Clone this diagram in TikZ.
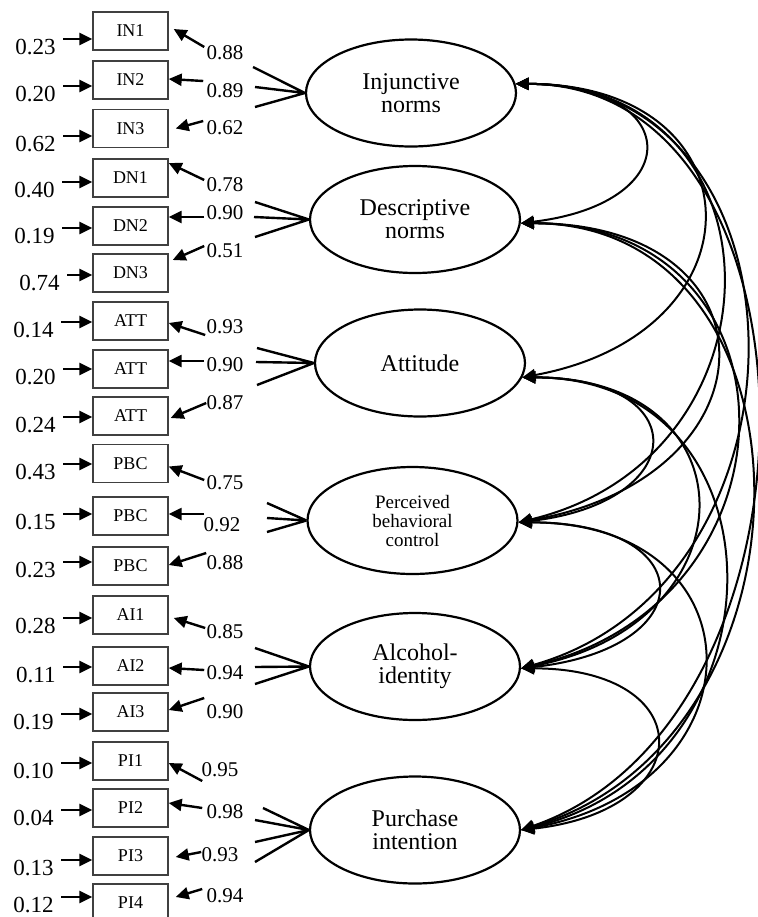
\documentclass[tikz,border=0pt]{standalone}
\usepackage{fontspec}
\setmainfont{Liberation Serif}
\usetikzlibrary{arrows.meta,shapes.geometric}

\tikzset{
    indicator/.style={draw=black!75, line width=0.7pt,
        minimum width=37.5pt, minimum height=19pt, inner sep=0pt,
        font=\fontsize{9}{9}\selectfont},
    latent/.style={draw, ellipse, line width=1.1pt,
        minimum width=105pt, minimum height=53.5pt, inner sep=0pt,
        align=center, font=\fontsize{12}{11.5}\selectfont},
    errlabel/.style={anchor=north east, inner sep=0pt,
        font=\fontsize{11.5}{11.5}\selectfont},
    loadlabel/.style={inner sep=0pt, font=\fontsize{10.5}{10.5}\selectfont},
    errarrow/.style={->, line width=1.3pt},
    loadarrow/.style={->, line width=1.2pt},
    fan/.style={line width=1.2pt},
    covar/.style={<->, line width=1pt}
}

\begin{document}
\begin{tikzpicture}[x=0.5pt, y=-0.5pt, >={Triangle[length=6.5pt,width=6pt]}]
    \useasboundingbox (0,0) rectangle (757,917);

    % Indicators
    \node [indicator] (IN1) at (130.5,31) {IN1};
    \node [indicator] (IN2) at (130.5,80) {IN2};
    \node [indicator] (IN3) at (130.5,128.5) {IN3};
    \node [indicator] (DN1) at (130.5,178) {DN1};
    \node [indicator] (DN2) at (130.5,226) {DN2};
    \node [indicator] (DN3) at (130.5,273) {DN3};
    \node [indicator] (ATT1) at (130.5,321) {ATT};
    \node [indicator] (ATT2) at (130.5,369) {ATT};
    \node [indicator] (ATT3) at (130.5,416) {ATT};
    \node [indicator] (PBC1) at (130.5,463.5) {PBC};
    \node [indicator] (PBC2) at (130.5,516) {PBC};
    \node [indicator] (PBC3) at (130.5,566) {PBC};
    \node [indicator] (AI1) at (130.5,615) {AI1};
    \node [indicator] (AI2) at (130.5,666) {AI2};
    \node [indicator] (AI3) at (130.5,712) {AI3};
    \node [indicator] (PI1) at (130.5,761) {PI1};
    \node [indicator] (PI2) at (130.5,808) {PI2};
    \node [indicator] (PI3) at (130.5,856) {PI3};
    \node [indicator] (PI4) at (130.5,903) {PI4};

    % Error terms
    \node [errlabel] (ErrIN1) at (56,39) {0.23};
    \node [errlabel] (ErrIN2) at (56,86) {0.20};
    \node [errlabel] (ErrIN3) at (56,136) {0.62};
    \node [errlabel] (ErrDN1) at (55,182) {0.40};
    \node [errlabel] (ErrDN2) at (55,228) {0.19};
    \node [errlabel] (ErrDN3) at (60,275) {0.74};
    \node [errlabel] (ErrATT1) at (54,322) {0.14};
    \node [errlabel] (ErrATT2) at (56,369) {0.20};
    \node [errlabel] (ErrATT3) at (56,417) {0.24};
    \node [errlabel] (ErrPBC1) at (56,464) {0.43};
    \node [errlabel] (ErrPBC2) at (56,514) {0.15};
    \node [errlabel] (ErrPBC3) at (56,562) {0.23};
    \node [errlabel] (ErrAI1) at (56,618) {0.28};
    \node [errlabel] (ErrAI2) at (56,667) {0.11};
    \node [errlabel] (ErrAI3) at (54,714) {0.19};
    \node [errlabel] (ErrPI1) at (54,763) {0.10};
    \node [errlabel] (ErrPI2) at (54,810) {0.04};
    \node [errlabel] (ErrPI3) at (54,860) {0.13};
    \node [errlabel] (ErrPI4) at (54,897) {0.12};
    \foreach \item in {IN1,IN2,IN3,DN1,DN2,DN3,ATT1,ATT2,ATT3,PBC1,PBC2,PBC3,AI1,AI2,AI3,PI1,PI2,PI3,PI4}
        \draw [errarrow] ([xshift=3.5pt]Err\item.north east) -- (Err\item.north east -| \item.west);

    % Loadings
    \node [loadlabel] (LoadIN1) at (225,53) {0.88};
    \node [loadlabel] (LoadIN2) at (225,91) {0.89};
    \node [loadlabel] (LoadIN3) at (225,128) {0.62};
    \node [loadlabel] (LoadDN1) at (225,185) {0.78};
    \node [loadlabel] (LoadDN2) at (225,213) {0.90};
    \node [loadlabel] (LoadDN3) at (225,251) {0.51};
    \node [loadlabel] (LoadATT1) at (225,327) {0.93};
    \node [loadlabel] (LoadATT2) at (225,365) {0.90};
    \node [loadlabel] (LoadATT3) at (225,403) {0.87};
    \node [loadlabel] (LoadPBC1) at (225,483) {0.75};
    \node [loadlabel] (LoadPBC2) at (222,525) {0.92};
    \node [loadlabel] (LoadPBC3) at (225,563) {0.88};
    \node [loadlabel] (LoadAI1) at (225,632) {0.85};
    \node [loadlabel] (LoadAI2) at (225,673) {0.94};
    \node [loadlabel] (LoadAI3) at (225,712) {0.90};
    \node [loadlabel] (LoadPI1) at (220,770) {0.95};
    \node [loadlabel] (LoadPI2) at (225,812) {0.98};
    \node [loadlabel] (LoadPI3) at (220,855) {0.93};
    \node [loadlabel] (LoadPI4) at (225,896) {0.94};

    \draw [loadarrow] ([shift={(-2,-6)}]LoadIN1.west) -- ([shift={(5,-2)}]IN1.east);
    \draw [loadarrow] ([shift={(-3,-10)}]LoadIN2.west) -- ([shift={(0,-1)}]IN2.east);
    \draw [loadarrow] ([shift={(-3,-7)}]LoadIN3.west) -- ([shift={(7,0)}]IN3.east);
    \draw [loadarrow] ([shift={(-2,-5)}]LoadDN1.west) -- ([shift={(0,-15)}]DN1.east);
    \draw [loadarrow] ([shift={(-2,4)}]LoadDN2.west) -- ([shift={(0,-9)}]DN2.east);
    \draw [loadarrow] ([shift={(-2,-5)}]LoadDN3.west) -- ([shift={(4,-13)}]DN3.east);
    \draw [loadarrow] ([shift={(-1,8)}]LoadATT1.west) -- ([shift={(0,2)}]ATT1.east);
    \draw [loadarrow] ([shift={(-2,-4)}]LoadATT2.west) -- ([shift={(0,-8)}]ATT2.east);
    \draw [loadarrow] ([shift={(0,0)}]LoadATT3.west) -- ([shift={(2,2)}]ATT3.east);
    \draw [loadarrow] ([shift={(-2,-3)}]LoadPBC1.west) -- ([shift={(0,3)}]PBC1.east);
    \draw [loadarrow] ([shift={(1,-11)}]LoadPBC2.west) -- ([shift={(0,-2)}]PBC2.east);
    \draw [loadarrow] ([shift={(0,-10)}]LoadPBC3.west) -- ([shift={(0,-1)}]PBC3.east);
    \draw [loadarrow] ([shift={(-1,-4)}]LoadAI1.west) -- ([shift={(5,3)}]AI1.east);
    \draw [loadarrow] ([shift={(-2,-3)}]LoadAI2.west) -- ([shift={(0,2)}]AI2.east);
    \draw [loadarrow] ([shift={(-2,-14)}]LoadAI3.west) -- ([shift={(0,-2)}]AI3.east);
    \draw [loadarrow] ([shift={(1,11)}]LoadPI1.west) -- ([shift={(0,2)}]PI1.east);
    \draw [loadarrow] ([shift={(-4,-4)}]LoadPI2.west) -- ([shift={(0,-5)}]PI2.east);
    \draw [loadarrow] ([shift={(0,-3)}]LoadPI3.west) -- ([shift={(7,1)}]PI3.east);
    \draw [loadarrow] ([shift={(-4,-7)}]LoadPI4.west) -- ([shift={(7,-6)}]PI4.east);

    % Latent variables
    \node [latent] (Injunctive) at (411,93) {Injunctive\\norms};
    \node [latent] (Descriptive) at (415,219.5) {Descriptive\\norms};
    \node [latent] (Attitude) at (420,363) {Attitude};
    \node [latent, font=\fontsize{9.5}{9.5}\selectfont] (Control) at (412.5,520.5) {Perceived\\behavioral\\control};
    \node [latent] (Identity) at (415,666.5) {Alcohol-\\identity};
    \node [latent] (Intention) at (415,830) {Purchase\\intention};

    % Fans
    \coordinate (FanIN1) at (253,67);
    \coordinate (FanIN2) at (255,87);
    \coordinate (FanIN3) at (255,107);
    \coordinate (FanDN1) at (255,202);
    \coordinate (FanDN2) at (254,217);
    \coordinate (FanDN3) at (255,237);
    \coordinate (FanATT1) at (257,348);
    \coordinate (FanATT2) at (256,362);
    \coordinate (FanATT3) at (257,385);
    \coordinate (FanPBC1) at (267,503);
    \coordinate (FanPBC2) at (267,518);
    \coordinate (FanPBC3) at (267,532);
    \coordinate (FanAI1) at (255,648);
    \coordinate (FanAI2) at (255,667);
    \coordinate (FanAI3) at (255,684);
    \coordinate (FanPI1) at (263,808);
    \coordinate (FanPI2) at (255,820);
    \coordinate (FanPI3) at (255,842);
    \coordinate (FanPI4) at (255,862);
    \draw [fan] (Injunctive.west) -- (FanIN1) (Injunctive.west) -- (FanIN2) (Injunctive.west) -- (FanIN3);
    \draw [fan] (Descriptive.west) -- (FanDN1) (Descriptive.west) -- (FanDN2) (Descriptive.west) -- (FanDN3);
    \draw [fan] (Attitude.west) -- (FanATT1) (Attitude.west) -- (FanATT2) (Attitude.west) -- (FanATT3);
    \draw [fan] (Control.west) -- (FanPBC1) (Control.west) -- (FanPBC2) (Control.west) -- (FanPBC3);
    \draw [fan] (Identity.west) -- (FanAI1) (Identity.west) -- (FanAI2) (Identity.west) -- (FanAI3);
    \draw [fan] (Intention.west) -- (FanPI1) (Intention.west) -- (FanPI2) (Intention.west) -- (FanPI3) (Intention.west) -- (FanPI4);

    % Correlations
    \draw [covar] (Injunctive.5) .. controls +(168,0) and +(168,-20) .. (Descriptive.-2);
    \draw [covar] (Injunctive.5) .. controls +(245,0) and +(245,-45) .. (Attitude.-8);
    \draw [covar] (Injunctive.5) .. controls +(273,0) and +(273,-65) .. (Control.-1);
    \draw [covar] (Injunctive.5) .. controls +(303,0) and +(303,-85) .. (Identity.-1);
    \draw [covar] (Injunctive.5) .. controls +(318,0) and +(318,-110) .. (Intention.0);
    \draw [covar] (Descriptive.-2) .. controls +(262,0) and +(262,-45) .. (Control.-1);
    \draw [covar] (Descriptive.-2) .. controls +(287,0) and +(287,-65) .. (Identity.-1);
    \draw [covar] (Descriptive.-2) .. controls +(307,0) and +(307,-90) .. (Intention.0);
    \draw [covar] (Attitude.-8) .. controls +(173,0) and +(173,-20) .. (Control.-1);
    \draw [covar] (Attitude.-8) .. controls +(233,0) and +(233,-45) .. (Identity.-1);
    \draw [covar] (Attitude.-8) .. controls +(270,0) and +(270,-65) .. (Intention.0);
    \draw [covar] (Control.-1) .. controls +(183,0) and +(183,-20) .. (Identity.-1);
    \draw [covar] (Control.-1) .. controls +(245,0) and +(245,-45) .. (Intention.0);
    \draw [covar] (Identity.-1) .. controls +(180,0) and +(180,-20) .. (Intention.0);
\end{tikzpicture}
\end{document}
